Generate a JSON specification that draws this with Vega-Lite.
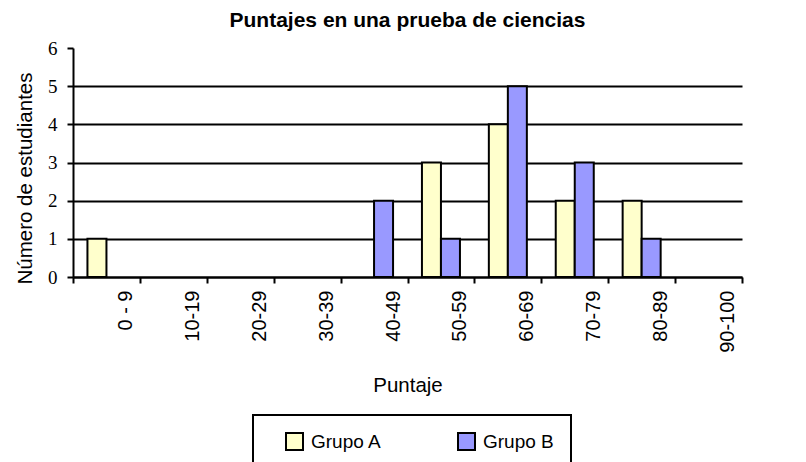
{
  "$schema": "https://vega.github.io/schema/vega-lite/v6.json",
  "width": 669,
  "height": 229,
  "autosize": {"type": "none"},
  "padding": {"left": 73, "top": 48, "right": 64, "bottom": 185},
  "background": "white",
  "title": {
    "text": "Puntajes en una prueba de ciencias",
    "font": "Liberation Sans",
    "fontSize": 21,
    "fontWeight": "bold",
    "color": "black",
    "anchor": "middle",
    "offset": 8
  },
  "data": {
    "values": [
      {"rango": "0 - 9", "grupo": "Grupo A", "n": 1},
      {"rango": "40-49", "grupo": "Grupo B", "n": 2},
      {"rango": "50-59", "grupo": "Grupo A", "n": 3},
      {"rango": "50-59", "grupo": "Grupo B", "n": 1},
      {"rango": "60-69", "grupo": "Grupo A", "n": 4},
      {"rango": "60-69", "grupo": "Grupo B", "n": 5},
      {"rango": "70-79", "grupo": "Grupo A", "n": 2},
      {"rango": "70-79", "grupo": "Grupo B", "n": 3},
      {"rango": "80-89", "grupo": "Grupo A", "n": 2},
      {"rango": "80-89", "grupo": "Grupo B", "n": 1}
    ]
  },
  "mark": {"type": "bar", "stroke": "black", "strokeWidth": 2, "opacity": 1},
  "encoding": {
    "x": {
      "field": "rango",
      "type": "nominal",
      "scale": {
        "domain": ["0 - 9", "10-19", "20-29", "30-39", "40-49", "50-59", "60-69", "70-79", "80-89", "90-100"],
        "paddingInner": 0,
        "paddingOuter": 0
      },
      "axis": {
        "title": "Puntaje",
        "titleFont": "Liberation Sans",
        "titleFontSize": 20.5,
        "titleFontWeight": "normal",
        "titleColor": "black",
        "titlePadding": 23,
        "labelAngle": -90,
        "labelAlign": "right",
        "labelBaseline": "middle",
        "labelFont": "Liberation Sans",
        "labelFontSize": 20,
        "labelColor": "black",
        "labelPadding": 7,
        "labelOffset": 19,
        "tickBand": "extent",
        "tickSize": 6,
        "tickWidth": 2,
        "tickColor": "black",
        "domainColor": "black",
        "domainWidth": 2,
        "grid": false
      }
    },
    "xOffset": {
      "field": "grupo",
      "type": "nominal",
      "scale": {"domain": ["Grupo A", "Grupo B"], "paddingInner": 0, "paddingOuter": 0.76}
    },
    "y": {
      "field": "n",
      "type": "quantitative",
      "scale": {"domain": [0, 6], "nice": false},
      "axis": {
        "title": "Número de estudiantes",
        "titleFont": "Liberation Sans",
        "titleFontSize": 20.5,
        "titleFontWeight": "normal",
        "titleColor": "black",
        "titlePadding": 12,
        "titleY": 130,
        "values": [0, 1, 2, 3, 4, 5, 6],
        "labelFont": "Liberation Serif",
        "labelFontSize": 19,
        "labelColor": "black",
        "labelPadding": 10,
        "tickSize": 6,
        "tickWidth": 2,
        "tickColor": "black",
        "domainColor": "black",
        "domainWidth": 2,
        "grid": true,
        "gridColor": {"condition": {"test": "datum.value == 6", "value": "transparent"}, "value": "black"},
        "gridWidth": 2,
        "gridOpacity": 1
      }
    },
    "color": {
      "field": "grupo",
      "type": "nominal",
      "scale": {"domain": ["Grupo A", "Grupo B"], "range": ["#FFFFCC", "#9999FF"]},
      "legend": {
        "title": null,
        "orient": "none",
        "legendX": 180,
        "legendY": 367,
        "direction": "horizontal",
        "columns": 2,
        "columnPadding": 60,
        "padding": 17,
        "symbolOffset": 15,
        "strokeColor": "black",
        "fillColor": "white",
        "symbolType": "square",
        "symbolSize": 289,
        "symbolStrokeColor": "black",
        "symbolStrokeWidth": 2,
        "symbolOpacity": 1,
        "labelFont": "Liberation Sans",
        "labelFontSize": 19,
        "labelColor": "black",
        "labelOffset": 7,
        "encode": {"legend": {"update": {"strokeWidth": {"value": 2}}}}
      }
    }
  },
  "config": {
    "view": {"stroke": null}
  }
}
